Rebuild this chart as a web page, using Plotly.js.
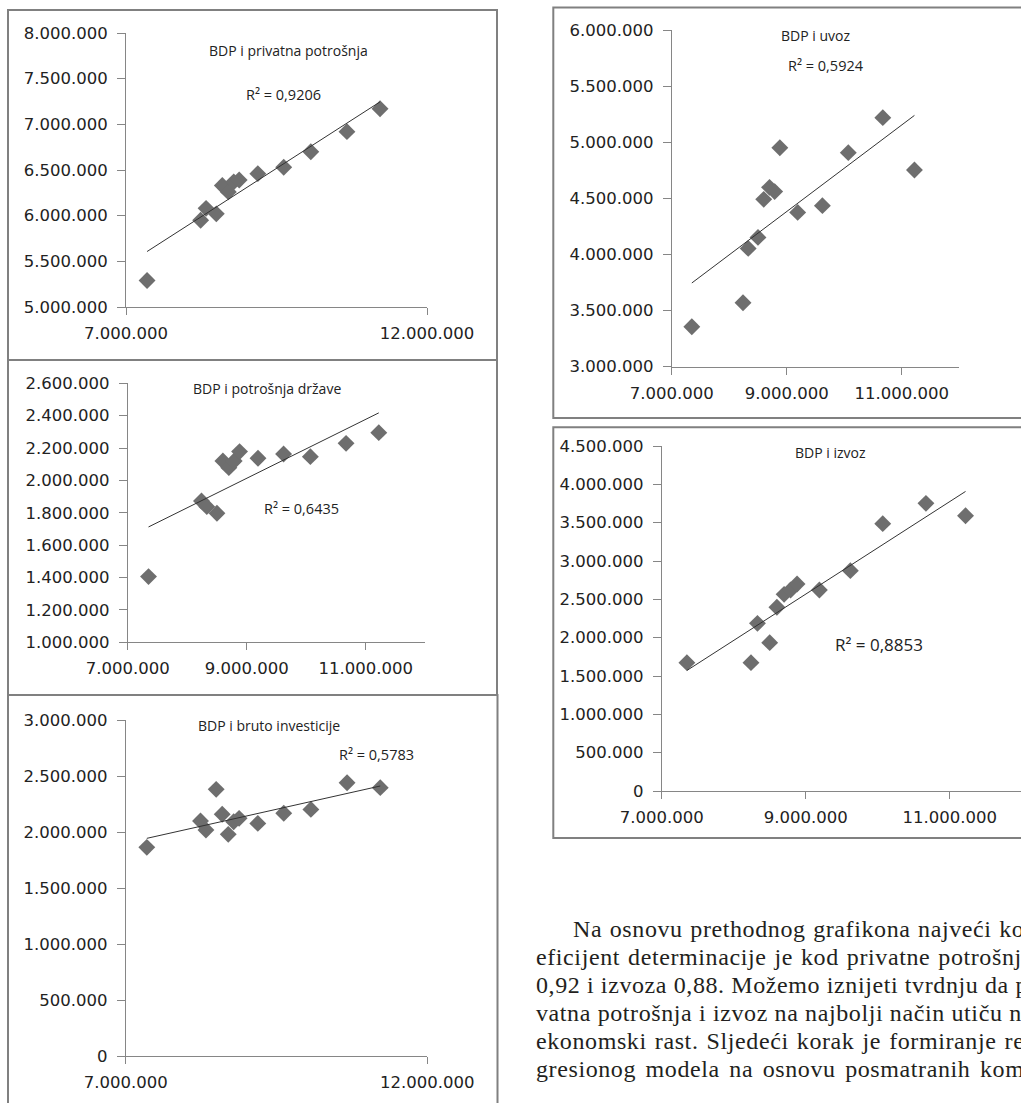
<!DOCTYPE html>
<html>
<head>
<meta charset="utf-8">
<script src="https://cdn.plot.ly/plotly-3.0.1.min.js"></script>
<style>
  html, body { margin: 0; padding: 0; background: #fff; overflow: hidden; width: 1021px; height: 1103px; }
  #chart { position: absolute; left: 0; top: 0; width: 1021px; height: 1103px; }
  #okvirTeksta { position: absolute; left: 0; top: 0; width: 1021px; height: 1103px; overflow: hidden; pointer-events: none; }
  #tekst { position: absolute; left: 536px; top: 914.6px; width: 497px;
           font-family: "Liberation Serif", "DejaVu Serif", serif; font-size: 24px;
           letter-spacing: 0.6px; line-height: 28.1px; color: #231f20; }
  #tekst div { text-align: justify; text-align-last: justify; white-space: nowrap; }
  #tekst div.prvi { padding-left: 37px; }
</style>
</head>
<body>
<div id="chart"></div>
<div id="okvirTeksta"><div id="tekst"></div></div>
<script>
// BDP (x) i komponente potrošnje (y), po godinama
const bdp                = [7350000, 8240000, 8330000, 8500000, 8600000, 8700000, 8790000, 8880000, 9190000, 9620000, 10070000, 10670000, 11220000];
const privatnaPotrosnja  = [5290000, 5950000, 6080000, 6020000, 6330000, 6260000, 6370000, 6390000, 6460000, 6530000, 6700000, 6920000, 7170000];
const potrosnjaDrzave    = [1406000, 1873000, 1838000, 1797000, 2120000, 2079000, 2120000, 2178000, 2137000, 2163000, 2147000, 2229000, 2295000];
const brutoInvesticije   = [1863000, 2098000, 2018000, 2381000, 2158000, 1979000, 2092000, 2122000, 2077000, 2167000, 2202000, 2440000, 2396000];
const uvoz               = [3356000, 3570000, 4054000, 4152000, 4491000, 4598000, 4560000, 4951000, 4375000, 4435000, 4907000, 5219000, 4752000];
const izvoz              = [1674000, 1674000, 2187000, 1935000, 2396000, 2565000, 2622000, 2700000, 2622000, 2874000, 3487000, 3752000, 3591000];

// naslovi i koeficijenti determinacije
const naslovi = ["BDP i privatna potrošnja", "BDP i potrošnja države", "BDP i bruto investicije", "BDP i uvoz", "BDP i izvoz"];
const rKvadrat = ["0,9206", "0,6435", "0,5783", "0,5924", "0,8853"];

// podjele osa
const xTickSiroko = [7000000, 12000000];
const xTickGusto  = [7000000, 9000000, 11000000];
const yTickPrivatna = [5000000, 5500000, 6000000, 6500000, 7000000, 7500000, 8000000];
const yTickDrzava   = [1000000, 1200000, 1400000, 1600000, 1800000, 2000000, 2200000, 2400000, 2600000];
const yTickInvest   = [0, 500000, 1000000, 1500000, 2000000, 2500000, 3000000];
const yTickUvoz     = [3000000, 3500000, 4000000, 4500000, 5000000, 5500000, 6000000];
const yTickIzvoz    = [0, 500000, 1000000, 1500000, 2000000, 2500000, 3000000, 3500000, 4000000, 4500000];

// tekst ispod grafikona
const redovi = [
  "Na osnovu prethodnog grafikona najveći ko-",
  "eficijent determinacije je kod privatne potrošnje",
  "0,92 i izvoza 0,88. Možemo iznijeti tvrdnju da pri-",
  "vatna potrošnja i izvoz na najbolji način utiču na",
  "ekonomski rast. Sljedeći korak je formiranje re-",
  "gresionog modela na osnovu posmatranih kom-"
];

const W = 1021, H = 1103;
const px = v => v / W;
const py = v => 1 - v / H;

// raspored panela (u pikselima stranice)
const raspored = [
  { y: privatnaPotrosnja, xt: xTickSiroko, yt: yTickPrivatna, xr: [7000000, 12000000],
    plot: [126, 427, 33, 307], okvir: [8, 497, 10, 360],
    nasl: [288, 50, 14], r2: [283, 94, 14.5] },
  { y: potrosnjaDrzave, xt: xTickGusto, yt: yTickDrzava, xr: [7000000, 12000000],
    plot: [127.7, 425.2, 383.3, 642.3], okvir: [8, 497, 360, 695],
    nasl: [267, 389, 14], r2: [301, 509, 14.5] },
  { y: brutoInvesticije, xt: xTickSiroko, yt: yTickInvest, xr: [7000000, 12000000],
    plot: [125.7, 427.3, 720, 1056], okvir: [8, 497.5, 695, 1120],
    nasl: [269, 725, 14], r2: [376, 754, 14.5] },
  { y: uvoz, xt: xTickGusto, yt: yTickUvoz, xr: [7000000, 12000000],
    plot: [671.7, 959.3, 30, 366.7], okvir: [553.3, 1040, 7.5, 418],
    nasl: [815, 36, 14], r2: [826, 66, 14.5] },
  { y: izvoz, xt: xTickGusto, yt: yTickIzvoz, xr: [7000000, 7000000 + (1021 - 661.7) / 72 * 1000000],
    plot: [661.7, 1021, 446, 791], okvir: [553.3, 1040, 427.3, 838],
    nasl: [830, 452, 14], r2: [879, 644, 17] }
];

const osaBoja = "#868686";
const tickFont = { family: "DejaVu Sans", size: 16.5, color: "#222" };
const tekstFont = { family: "Open Sans", color: "#222" };

const data = [];
const layout = {
  width: W, height: H,
  margin: { l: 0, r: 0, t: 0, b: 0 },
  paper_bgcolor: "#fff", plot_bgcolor: "rgba(0,0,0,0)",
  showlegend: false,
  separators: ",.",
  shapes: [], annotations: []
};

function regresija(x, y) {
  const n = x.length;
  const mx = x.reduce((a, b) => a + b, 0) / n;
  const my = y.reduce((a, b) => a + b, 0) / n;
  let sxy = 0, sxx = 0;
  for (let i = 0; i < n; i++) { sxy += (x[i] - mx) * (y[i] - my); sxx += (x[i] - mx) ** 2; }
  const b = sxy / sxx;
  return { b: b, a: my - b * mx };
}

raspored.forEach((p, i) => {
  const k = i === 0 ? "" : String(i + 1);
  const xa = "x" + k, ya = "y" + k;

  // tačke
  data.push({
    type: "scatter", mode: "markers", x: bdp, y: p.y, xaxis: xa, yaxis: ya,
    marker: { symbol: "diamond", size: 13, color: "#6e6e6e", line: { width: 0 } },
    hoverinfo: "skip", cliponaxis: false
  });

  // linearni trend
  const r = regresija(bdp, p.y);
  const xMin = Math.min(...bdp), xMax = Math.max(...bdp);
  data.push({
    type: "scatter", mode: "lines", x: [xMin, xMax], y: [r.a + r.b * xMin, r.a + r.b * xMax],
    xaxis: xa, yaxis: ya, line: { color: "#333", width: 1 }, hoverinfo: "skip"
  });

  const [x0, x1, yTop, yBot] = p.plot;
  layout["xaxis" + k] = {
    domain: [px(x0), Math.min(1, px(x1))], range: p.xr, anchor: ya,
    tickmode: "array", tickvals: p.xt, tickformat: ",d",
    showgrid: false, zeroline: false, showline: true, linecolor: osaBoja, linewidth: 1,
    ticks: "outside", ticklen: 7, tickcolor: osaBoja, tickwidth: 1,
    tickfont: tickFont, ticklabelstandoff: 4, fixedrange: true
  };
  layout["yaxis" + k] = {
    domain: [py(yBot), py(yTop)], range: [p.yt[0], p.yt[p.yt.length - 1]], anchor: xa,
    tickmode: "array", tickvals: p.yt, tickformat: ",d",
    showgrid: false, zeroline: false, showline: true, linecolor: osaBoja, linewidth: 1,
    ticks: "outside", ticklen: 8, tickcolor: osaBoja, tickwidth: 1,
    tickfont: tickFont, ticklabelstandoff: 6, fixedrange: true
  };

  // okvir panela
  const [ox0, ox1, oy0, oy1] = p.okvir;
  layout.shapes.push({
    type: "rect", xref: "paper", yref: "paper",
    x0: px(ox0), x1: px(ox1), y0: py(oy1), y1: py(oy0),
    line: { color: "#808080", width: 2 }, fillcolor: "rgba(0,0,0,0)"
  });

  // naslov i R²
  layout.annotations.push({
    xref: "paper", yref: "paper", x: px(p.nasl[0]), y: py(p.nasl[1]),
    xanchor: "center", yanchor: "middle", showarrow: false,
    text: naslovi[i], font: Object.assign({ size: p.nasl[2] }, tekstFont)
  });
  layout.annotations.push({
    xref: "paper", yref: "paper", x: px(p.r2[0]), y: py(p.r2[1]),
    xanchor: "center", yanchor: "middle", showarrow: false,
    text: "R² = " + rKvadrat[i], font: Object.assign({ size: p.r2[2] }, tekstFont)
  });
});

Plotly.newPlot("chart", data, layout, { staticPlot: true, displayModeBar: false });

const tekst = document.getElementById("tekst");
redovi.forEach((r, i) => {
  const d = document.createElement("div");
  if (i === 0) d.className = "prvi";
  d.textContent = r;
  tekst.appendChild(d);
});
</script>
</body>
</html>
